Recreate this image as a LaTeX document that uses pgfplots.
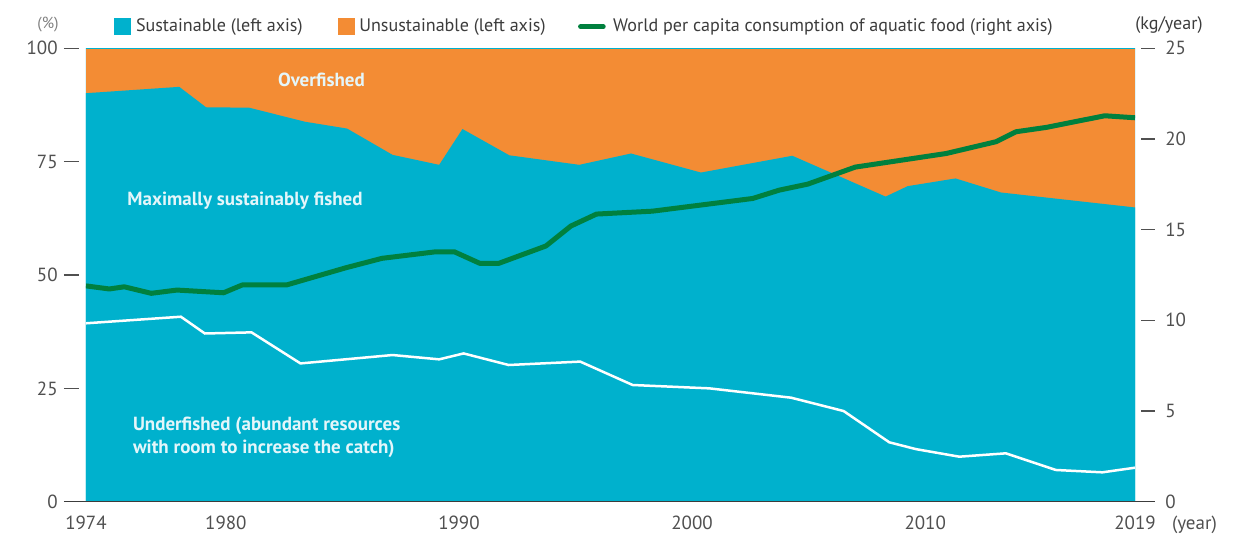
\documentclass[border=0pt]{standalone}
\usepackage{pgfplots}
\usepackage{pgfplotstable}
\pgfplotsset{compat=1.18}
\usepackage{fontspec}
\setmainfont{PT Sans}
\definecolor{cBlue}{RGB}{0,177,205}
\definecolor{cOrange}{RGB}{243,140,52}
\definecolor{cGreen}{RGB}{0,128,62}
\definecolor{cText}{RGB}{60,60,60}
\definecolor{cTick}{RGB}{80,80,80}
\definecolor{cLabel}{RGB}{228,246,250}
\newcommand\fs{\fontsize{11.4}{13.6}\selectfont}
\newcommand\fl{\fontsize{10.85}{13}\selectfont}

\pgfplotstableread{
year value
1974 90.1
1978 91.5
1979.15 87.0
1981 86.9
1983.4 83.8
1985.2 82.3
1987.15 76.5
1989.15 74.3
1990.15 82.2
1992.16 76.4
1995.16 74.3
1997.38 76.8
2000.38 72.6
2004.3 76.3
2008.3 67.3
2009.25 69.6
2011.3 71.3
2013.25 68.2
2019 64.9
}\sustainable

\pgfplotstableread{
year value
1974 39.35
1978.07 40.8
1979.1 37.1
1981.1 37.35
1983.2 30.5
1987.15 32.35
1989.15 31.4
1990.2 32.7
1992.13 30.15
1995.2 30.9
1997.45 25.74
2000.74 25.0
2004.25 22.94
2006.5 20.0
2008.46 13.1
2009.6 11.6
2011.46 9.93
2013.46 10.67
2015.6 7.0
2017.6 6.48
2019 7.5
}\underfished

\pgfplotstableread{
year value
1974 11.9
1975 11.73
1975.64 11.85
1976.8 11.49
1977.9 11.67
1979.9 11.52
1980.7 11.95
1982.6 11.95
1985.15 12.9
1986.7 13.42
1989.0 13.78
1989.8 13.78
1990.9 13.14
1991.7 13.14
1993.73 14.1
1994.8 15.2
1995.9 15.86
1998.3 16.02
2002.6 16.72
2003.74 17.18
2004.96 17.51
2007 18.45
2010.9 19.2
2013.04 19.85
2013.9 20.4
2015.2 20.64
2017.7 21.28
2019 21.17
}\consumption

\begin{document}
\begin{tikzpicture}
\path[use as bounding box] (-51.6pt,-18.78pt) rectangle (700.2pt,301.02pt);
\begin{axis}[
  name=main,
  at={(0pt,0pt)}, anchor=south west,
  scale only axis, width=629.4pt, height=272.04pt,
  xmin=1974, xmax=2019, ymin=0, ymax=100,
  axis line style={draw=none}, tick style={draw=none},
  xtick={1974,1980,1990,2000,2010,2019},
  ytick={0,25,50,75,100},
  /pgf/number format/assume math mode=true,
  xticklabel={\pgfmathprintnumber[1000 sep={}]{\tick}},
  tick label style={font=\fs, text=cTick, inner sep=0pt},
  yticklabel style={anchor=east, xshift=-16.8pt},
  xticklabel style={anchor=north, yshift=-8.6pt},
  clip mode=individual,
]
\addplot[fill=cOrange, draw=cBlue, line width=0.6pt] coordinates {(1974,0) (1974,100) (2019,100) (2019,0)} -- cycle;
\addplot[fill=cBlue, draw=none] table[x=year, y=value] {\sustainable} \closedcycle;
\addplot[white, line width=1.5pt] table[x=year, y=value] {\underfished};
\end{axis}
\begin{axis}[
  at={(0pt,0pt)}, anchor=south west,
  scale only axis, width=629.4pt, height=272.04pt,
  xmin=1974, xmax=2019, ymin=0, ymax=25,
  axis line style={draw=none}, tick style={draw=none},
  xtick=\empty,
  ytick={0,5,10,15,20,25},
  yticklabel pos=right,
  /pgf/number format/assume math mode=true,
  tick label style={font=\fs, text=cTick, inner sep=0pt},
  yticklabel style={anchor=west, xshift=18pt},
  legend style={at={(axis description cs:0,1)}, anchor=west, xshift=17pt, yshift=13pt,
    draw=none, fill=none, inner sep=0pt, outer sep=0pt,
    font=\fl, text=cText,
    nodes={inner sep=0pt},
    /tikz/column 1/.style={column sep=3pt},
    /tikz/column 2/.style={column sep=21pt},
    /tikz/column 3/.style={column sep=3pt},
    /tikz/column 4/.style={column sep=19.5pt},
    /tikz/column 5/.style={column sep=4.5pt}},
  legend columns=-1,
  legend cell align=left,
]
\addlegendimage{legend image code/.code={\fill[cBlue] (0pt,-4.8pt) rectangle (9.6pt,4.8pt);}}
\addlegendentry{Sustainable (left axis)}
\addlegendimage{legend image code/.code={\fill[cOrange] (0pt,-4.8pt) rectangle (9.6pt,4.8pt);}}
\addlegendentry{Unsustainable (left axis)}
\addplot[cGreen, line width=3pt, line join=round,
  legend image code/.code={\draw[cGreen, line width=3pt, line cap=round] (0pt,0pt) -- (13.6pt,0pt);}]
  table[x=year, y=value] {\consumption};
\addlegendentry{World per capita consumption of aquatic food (right axis)}
\end{axis}
% axis decorations
\draw[cText, line width=0.9pt] (-13.2pt,0pt) -- (641.4pt,0pt);
\foreach \v in {1,2,3,4} {
  \draw[cTick, line width=0.8pt] (-13.2pt,{\v*68.01pt}) -- (-4.2pt,{\v*68.01pt});
}
\foreach \v in {1,2,3,4,5} {
  \draw[cTick, line width=0.8pt] (633pt,{\v*54.408pt}) -- (641.4pt,{\v*54.408pt});
}
\node[anchor=east, inner sep=0pt, font=\fontsize{9.6}{11}\selectfont, text=gray] at (-16.2pt,286.4pt) {(\%)};
\node[anchor=west, inner sep=0pt, font=\fl, text=cText] at (629.4pt,286pt) {(kg/year)};
\node[anchor=base west, inner sep=0pt, font=\fs, text=cTick] at (651.4pt,-16.4pt) {(year)};
% area labels
\node[font=\fs\bfseries, text=cLabel, inner sep=0pt] at (141.3pt,253.4pt) {Overfished};
\node[font=\fs\bfseries, text=cLabel, inner sep=0pt] at (95.4pt,180.4pt) {Maximally sustainably fished};
\node[font=\fontsize{11.4}{13.4}\selectfont\bfseries, text=cLabel, inner sep=0pt, align=left, anchor=west] at (28pt,38.7pt) {Underfished (abundant resources\\with room to increase the catch)};
\end{tikzpicture}
\end{document}
